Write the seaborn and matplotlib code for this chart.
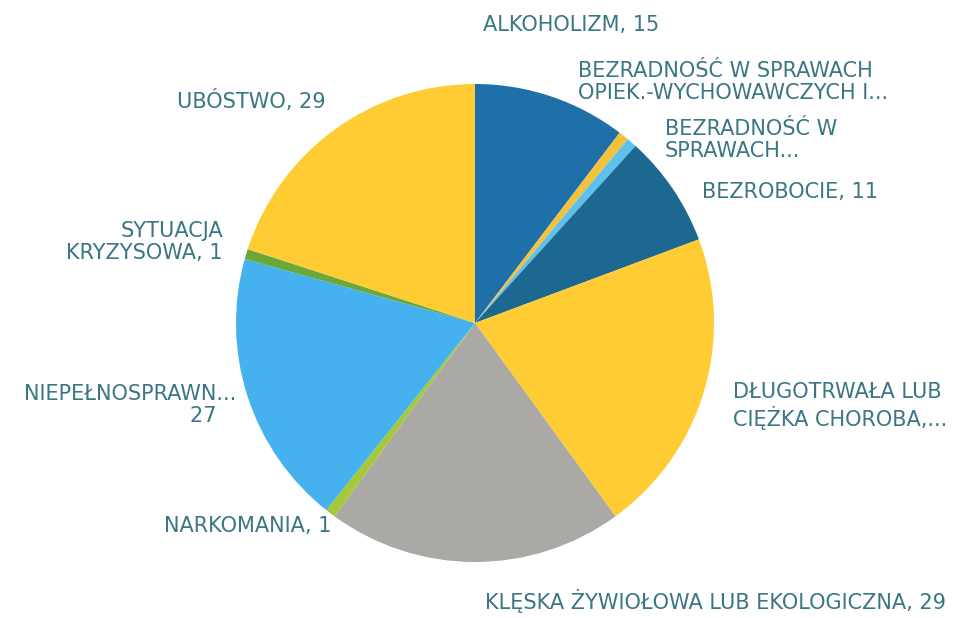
import matplotlib
matplotlib.use("Agg")
import matplotlib.pyplot as plt
import seaborn as sns

# data (clockwise from 12 o'clock)
categories = [
    "ALKOHOLIZM",
    "BEZRADNOŚĆ W SPRAWACH OPIEK.-WYCHOWAWCZYCH I...",
    "BEZRADNOŚĆ W SPRAWACH...",
    "BEZROBOCIE",
    "DŁUGOTRWAŁA LUB CIĘŻKA CHOROBA",
    "KLĘSKA ŻYWIOŁOWA LUB EKOLOGICZNA",
    "NARKOMANIA",
    "NIEPEŁNOSPRAWNOŚĆ",
    "SYTUACJA KRYZYSOWA",
    "UBÓSTWO",
]
values = [15, 1, 1, 11, 30, 29, 1, 27, 1, 29]

# label text as shown (long names truncated like in the original)
label_texts = [
    "ALKOHOLIZM, 15",
    "BEZRADNOŚĆ W SPRAWACH\nOPIEK.-WYCHOWAWCZYCH I...",
    "BEZRADNOŚĆ W\nSPRAWACH...",
    "BEZROBOCIE, 11",
    "DŁUGOTRWAŁA LUB\nCIĘŻKA CHOROBA,...",
    "KLĘSKA ŻYWIOŁOWA LUB EKOLOGICZNA, 29",
    "NARKOMANIA, 1",
    "NIEPEŁNOSPRAWN...\n27   ",
    "SYTUACJA\nKRYZYSOWA, 1",
    "UBÓSTWO, 29",
]

colors = ["#1f6fa9", "#f3c13a", "#5ec0ec", "#1c6890", "#ffcc33",
          "#aba9a6", "#a5c83a", "#45b1ee", "#6aa83a", "#ffcc33"]

# label anchor points in figure pixels (x, y from top) and alignment
label_pos = [(483, 25, "left"), (578, 82, "left"), (665, 140, "left"),
             (702, 192, "left"), (733, 406, "left"), (485, 601, "left"),
             (331, 526, "right"), (236, 405, "right"), (223, 242, "right"),
             (326, 101, "right")]

sns.set_style("white")
plt.rcParams["font.family"] = ["DejaVu Sans"]

W, H = 962, 618
fig = plt.figure(figsize=(W / 100, H / 100), dpi=100)
cx, cy, r = 475, 323, 239
ax = fig.add_axes([(cx - r) / W, (H - cy - r) / H, 2 * r / W, 2 * r / H])

pal = sns.color_palette(colors)
ax.pie(values, colors=pal, startangle=90, counterclock=False,
       wedgeprops=dict(linewidth=0))
ax.set_xlim(-1, 1)
ax.set_ylim(-1, 1)
ax.set_aspect("equal")
ax.axis("off")

for txt, (px, py, ha) in zip(label_texts, label_pos):
    fig.text(px / W, 1 - py / H, txt, ha=ha, va="center", fontsize=15,
             color="#3a7683", linespacing=1.18, multialignment=ha)

fig.savefig("out.png", dpi=100, facecolor="white")
